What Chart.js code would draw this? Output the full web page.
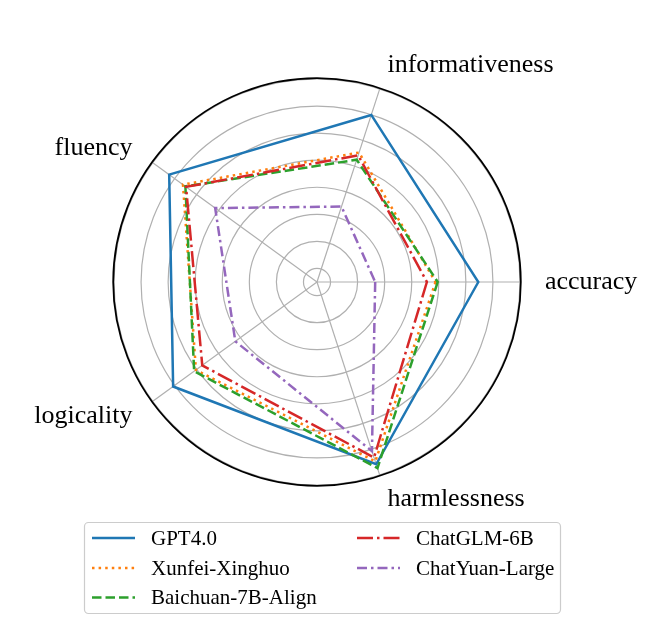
<!DOCTYPE html>
<html><head><meta charset="utf-8">
<script src="https://cdn.jsdelivr.net/npm/chart.js@4.4.0/dist/chart.umd.min.js"></script>
<style>html,body{margin:0;padding:0;background:#fff;} #wrap{width:645px;height:625px;position:relative;}</style>
</head><body><div id="wrap"><canvas id="c" width="645" height="625"></canvas></div>
<script>
// categories in clockwise order starting from the right-hand (accuracy) axis
const categories = ['accuracy', 'harmlessness', 'logicality', 'fluency', 'informativeness'];
const seriesNames = ['GPT4.0', 'Xunfei-Xinghuo', 'Baichuan-7B-Align', 'ChatGLM-6B', 'ChatYuan-Large'];
// values, same order as categories
const gpt4Values     = [59.6, 70.8, 65.7, 67.5, 64.9];
const xunfeiValues   = [43.8, 69.7, 55.3, 61.2, 50.3];
const baichuanValues = [44.6, 72.3, 56.1, 60.1, 47.5];
const chatglmValues  = [40.6, 68.2, 52.4, 59.8, 49.2];
const chatyuanValues = [21.5, 65.7, 37.3, 46.5, 29.3];
const ringTicks = [0, 5, 15, 25, 35, 45, 55, 65, 75];
const rMin = 0, rMax = 75;

const seriesValues = [gpt4Values, xunfeiValues, baichuanValues, chatglmValues, chatyuanValues];
const seriesColors = ['#1f77b4', '#ff7f0e', '#2ca02c', '#d62728', '#9467bd'];
const seriesDash = [[], [2.5, 4.1], [9.5, 4], [16, 4, 2.5, 4], [10, 4, 2.5, 4]];
const LABEL_FONT = '26px "Liberation Serif", "Times New Roman", serif';
const LEGEND_FONT = '21px "Liberation Serif", "Times New Roman", serif';

const spinePlugin = {
  id: 'spine',
  beforeDatasetsDraw(chart) {
    const s = chart.scales.r, ctx = chart.ctx;
    ctx.save();
    ctx.beginPath();
    ctx.arc(s.xCenter, s.yCenter, s.drawingArea + 0.8, 0, Math.PI * 2);
    ctx.strokeStyle = '#000';
    ctx.lineWidth = 1.8;
    ctx.stroke();
    ctx.restore();
  }
};

const axisLabelPlugin = {
  id: 'axisLabels',
  afterDraw(chart) {
    const s = chart.scales.r, ctx = chart.ctx;
    ctx.save();
    ctx.font = LABEL_FONT;
    ctx.fillStyle = '#000';
    ctx.textBaseline = 'middle';
    categories.forEach((name, i) => {
      const p = s.getPointPosition(i, s.drawingArea + 25);
      ctx.textAlign = (p.x >= s.xCenter - 1) ? 'left' : 'right';
      ctx.fillText(name, p.x, p.y);
    });
    ctx.restore();
  }
};

const legendBoxPlugin = {
  id: 'legendBox',
  afterDraw(chart) {
    const ctx = chart.ctx;
    const box = {x: 84.5, y: 522.5, w: 476, h: 91, r: 4};
    ctx.save();
    ctx.beginPath();
    ctx.roundRect(box.x, box.y, box.w, box.h, box.r);
    ctx.fillStyle = 'rgba(255,255,255,0.8)';
    ctx.fill();
    ctx.strokeStyle = '#cccccc';
    ctx.lineWidth = 1.2;
    ctx.stroke();
    const colX = [92, 357];
    const rowY = [538, 568, 597.5];
    ctx.font = LEGEND_FONT;
    ctx.textBaseline = 'middle';
    ctx.textAlign = 'left';
    seriesNames.forEach((name, i) => {
      const col = i < 3 ? 0 : 1;
      const row = i < 3 ? i : i - 3;
      const x = colX[col], y = rowY[row];
      ctx.beginPath();
      ctx.setLineDash(seriesDash[i]);
      ctx.lineCap = 'butt';
      ctx.strokeStyle = seriesColors[i];
      ctx.lineWidth = 2.5;
      ctx.moveTo(x, y);
      ctx.lineTo(x + 43, y);
      ctx.stroke();
      ctx.setLineDash([]);
      ctx.fillStyle = '#000';
      ctx.fillText(name, x + 59, y + 1);
    });
    ctx.restore();
  }
};

new Chart(document.getElementById('c'), {
  type: 'radar',
  data: {
    labels: categories,
    datasets: seriesNames.map((name, i) => ({
      label: name,
      data: seriesValues[i],
      borderColor: seriesColors[i],
      backgroundColor: 'transparent',
      borderWidth: 2.5,
      borderDash: seriesDash[i],
      borderCapStyle: 'butt',
      borderJoinStyle: 'miter',
      fill: false,
      pointRadius: 0,
      pointHoverRadius: 0,
      tension: 0,
      order: -i
    }))
  },
  options: {
    responsive: false,
    animation: false,
    devicePixelRatio: 1,
    layout: {padding: {left: 114, right: 124, top: 79, bottom: 139}},
    plugins: {legend: {display: false}, tooltip: {enabled: false}},
    scales: {
      r: {
        min: rMin,
        max: rMax,
        startAngle: 90,
        afterBuildTicks: (scale) => { scale.ticks = ringTicks.map(v => ({value: v})); },
        ticks: {display: false},
        pointLabels: {display: false},
        grid: {circular: true, color: '#b0b0b0', lineWidth: 1.2},
        angleLines: {display: true, color: '#b0b0b0', lineWidth: 1.2}
      }
    }
  },
  plugins: [spinePlugin, axisLabelPlugin, legendBoxPlugin]
});
</script>
</body></html>
